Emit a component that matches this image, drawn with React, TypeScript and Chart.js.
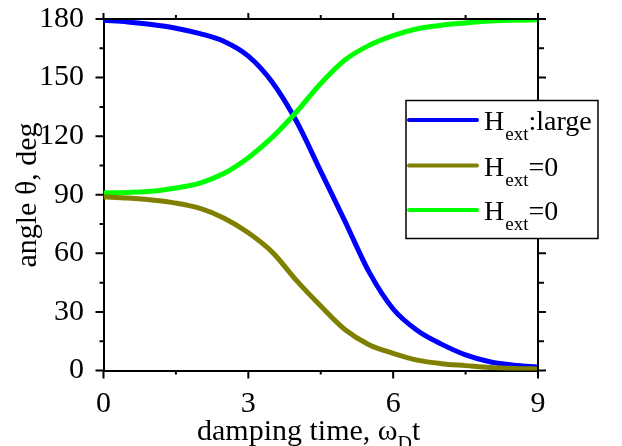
import React, { useEffect, useRef } from 'react';
import { Chart, registerables } from 'chart.js';

Chart.register(...registerables);

const FONT = '"Liberation Serif", "Times New Roman", Times, serif';

const timeValues = [0, 0.5, 1, 1.5, 2, 2.5, 3, 3.5, 4, 4.5, 5, 5.5, 6, 6.5, 7, 7.5, 8, 8.5, 9];
const blueLarge = [179.3, 178.5, 177.2, 175.3, 172.5, 168.5, 161, 147.5, 127.5, 102, 76.5, 50.5, 31.5, 20.5, 13.5, 8, 4.5, 2.7, 1.8];
const oliveZero = [89, 88.3, 87.3, 85.7, 83, 78, 70.5, 60.5, 46, 33, 21, 13.2, 8.8, 5.3, 3.5, 2.5, 1.5, 1, 0.8];
const greenZero = [90.9, 91.2, 91.8, 93.5, 96, 101, 109, 119.5, 132.5, 147, 159, 166.5, 171.5, 175, 176.8, 178, 179, 179.4, 179.6];

const xTickValues = [0, 3, 6, 9];
const yTickValues = [0, 30, 60, 90, 120, 150, 180];

const legendItems = [
  { main: 'H', sub: 'ext', rest: ':large', color: '#0000ff' },
  { main: 'H', sub: 'ext', rest: '=0', color: '#808000' },
  { main: 'H', sub: 'ext', rest: '=0', color: '#00ff00' },
];

const xTitleParts = { main: 'damping time, ω', sub: 'D', rest: 't' };
const yTitle = 'angle θ, deg';

function toPoints(vals: number[]) {
  return vals.map((v, i) => ({ x: timeValues[i], y: v }));
}

const framePlugin = {
  id: 'framePlugin',
  afterDraw(chart: any) {
    const { ctx, chartArea: ca, scales } = chart;
    const xs = scales.x;
    const ys = scales.y;
    ctx.save();
    ctx.strokeStyle = '#000';
    ctx.lineWidth = 2;
    ctx.lineCap = 'butt';
    ctx.beginPath();
    ctx.moveTo(ca.left - 1, ca.top);
    ctx.lineTo(ca.right, ca.top);
    ctx.lineTo(ca.right, ca.bottom + 1);
    ctx.stroke();

    const xStep = xTickValues[1] - xTickValues[0];
    ctx.beginPath();
    for (let i = 0; i < xTickValues.length; i++) {
      const v = xTickValues[i];
      const px = xs.getPixelForValue(v);
      ctx.moveTo(px, ca.bottom);
      ctx.lineTo(px, ca.bottom + 8);
      ctx.moveTo(px, ca.top);
      ctx.lineTo(px, ca.top - 6);
      if (i < xTickValues.length - 1) {
        const m = xs.getPixelForValue(v + xStep / 2);
        ctx.moveTo(m, ca.bottom);
        ctx.lineTo(m, ca.bottom + 4);
        ctx.moveTo(m, ca.top);
        ctx.lineTo(m, ca.top - 4);
      }
    }
    const yStep = yTickValues[1] - yTickValues[0];
    for (let i = 0; i < yTickValues.length; i++) {
      const v = yTickValues[i];
      const py = ys.getPixelForValue(v);
      ctx.moveTo(ca.left, py);
      ctx.lineTo(ca.left - 8, py);
      ctx.moveTo(ca.right, py);
      ctx.lineTo(ca.right + 8, py);
      if (i < yTickValues.length - 1) {
        const m = ys.getPixelForValue(v + yStep / 2);
        ctx.moveTo(ca.left, m);
        ctx.lineTo(ca.left - 4, m);
        ctx.moveTo(ca.right, m);
        ctx.lineTo(ca.right + 6, m);
      }
    }
    ctx.stroke();

    // legend box
    const bx = 406, by = 100.5, bw = 192, bh = 138;
    ctx.fillStyle = '#fff';
    ctx.fillRect(bx, by, bw, bh);
    ctx.strokeStyle = '#000';
    ctx.lineWidth = 1.5;
    ctx.strokeRect(bx, by, bw, bh);
    const baselines = [130, 175.5, 220];
    legendItems.forEach((it, i) => {
      const yb = baselines[i];
      ctx.strokeStyle = it.color;
      ctx.lineWidth = 4;
      ctx.lineCap = 'round';
      ctx.beginPath();
      ctx.moveTo(409, yb - 10);
      ctx.lineTo(477, yb - 10);
      ctx.stroke();
      ctx.fillStyle = '#000';
      ctx.textBaseline = 'alphabetic';
      ctx.textAlign = 'left';
      let x = 484;
      ctx.font = `28px ${FONT}`;
      ctx.fillText(it.main, x, yb);
      x += ctx.measureText(it.main).width + 1;
      ctx.font = `19px ${FONT}`;
      ctx.fillText(it.sub, x, yb + 10);
      x += ctx.measureText(it.sub).width;
      ctx.font = `28px ${FONT}`;
      ctx.fillText(it.rest, x, yb);
    });

    // x title
    ctx.fillStyle = '#000';
    ctx.textAlign = 'left';
    ctx.textBaseline = 'alphabetic';
    let tx = 197;
    ctx.font = `30px ${FONT}`;
    ctx.fillText(xTitleParts.main, tx, 440);
    tx += ctx.measureText(xTitleParts.main).width;
    ctx.font = `20px ${FONT}`;
    ctx.fillText(xTitleParts.sub, tx, 450);
    tx += ctx.measureText(xTitleParts.sub).width;
    ctx.font = `30px ${FONT}`;
    ctx.fillText(xTitleParts.rest, tx, 440);

    // y title
    ctx.save();
    ctx.translate(28, 195);
    ctx.rotate(-Math.PI / 2);
    ctx.textAlign = 'center';
    ctx.textBaseline = 'middle';
    ctx.font = `30px ${FONT}`;
    ctx.fillText(yTitle, 0, 0);
    ctx.restore();

    ctx.restore();
  },
};

export default function App() {
  const ref = useRef<HTMLCanvasElement>(null);
  useEffect(() => {
    const canvas = ref.current!;
    const mk = (vals: number[], color: string) => ({
      data: toPoints(vals),
      borderColor: color,
      backgroundColor: color,
      borderWidth: 5,
      pointRadius: 0,
      fill: false,
      cubicInterpolationMode: 'monotone' as const,
    });
    const chart = new Chart(canvas, {
      type: 'line',
      data: {
        datasets: [mk(oliveZero, '#808000'), mk(greenZero, '#00ff00'), mk(blueLarge, '#0000ff')],
      },
      options: {
        responsive: false,
        animation: false,
        devicePixelRatio: 1,
        layout: { padding: { left: 0, top: 19, right: 84, bottom: 0 } },
        plugins: { legend: { display: false }, tooltip: { enabled: false } },
        scales: {
          x: {
            type: 'linear',
            min: 0,
            max: 9,
            afterBuildTicks: (s: any) => { s.ticks = xTickValues.map((v) => ({ value: v })); },
            ticks: { font: { family: FONT, size: 30 }, color: '#000', padding: 8, maxRotation: 0, autoSkip: false },
            grid: { display: false },
            border: { display: true, color: '#000', width: 2 },
            afterFit: (s: any) => {
              s.height = 75.5;
              s.paddingLeft = 0;
              s.paddingRight = 0;
              s.paddingTop = 0;
              s.paddingBottom = 0;
            },
          },
          y: {
            type: 'linear',
            min: 0,
            max: 180,
            afterBuildTicks: (s: any) => { s.ticks = yTickValues.map((v) => ({ value: v })); },
            ticks: { font: { family: FONT, size: 30 }, color: '#000', padding: 11.5, autoSkip: false },
            grid: { display: false },
            border: { display: true, color: '#000', width: 2 },
            afterFit: (s: any) => {
              s.width = 103.5;
              s.paddingLeft = 0;
              s.paddingRight = 0;
              s.paddingTop = 0;
              s.paddingBottom = 0;
            },
          },
        },
      },
      plugins: [framePlugin],
    });
    return () => chart.destroy();
  }, []);
  return (
    <canvas
      ref={ref}
      width={622}
      height={446}
      style={{ position: 'absolute', left: 0, top: 0, display: 'block', width: 622, height: 446 }}
    />
  );
}
